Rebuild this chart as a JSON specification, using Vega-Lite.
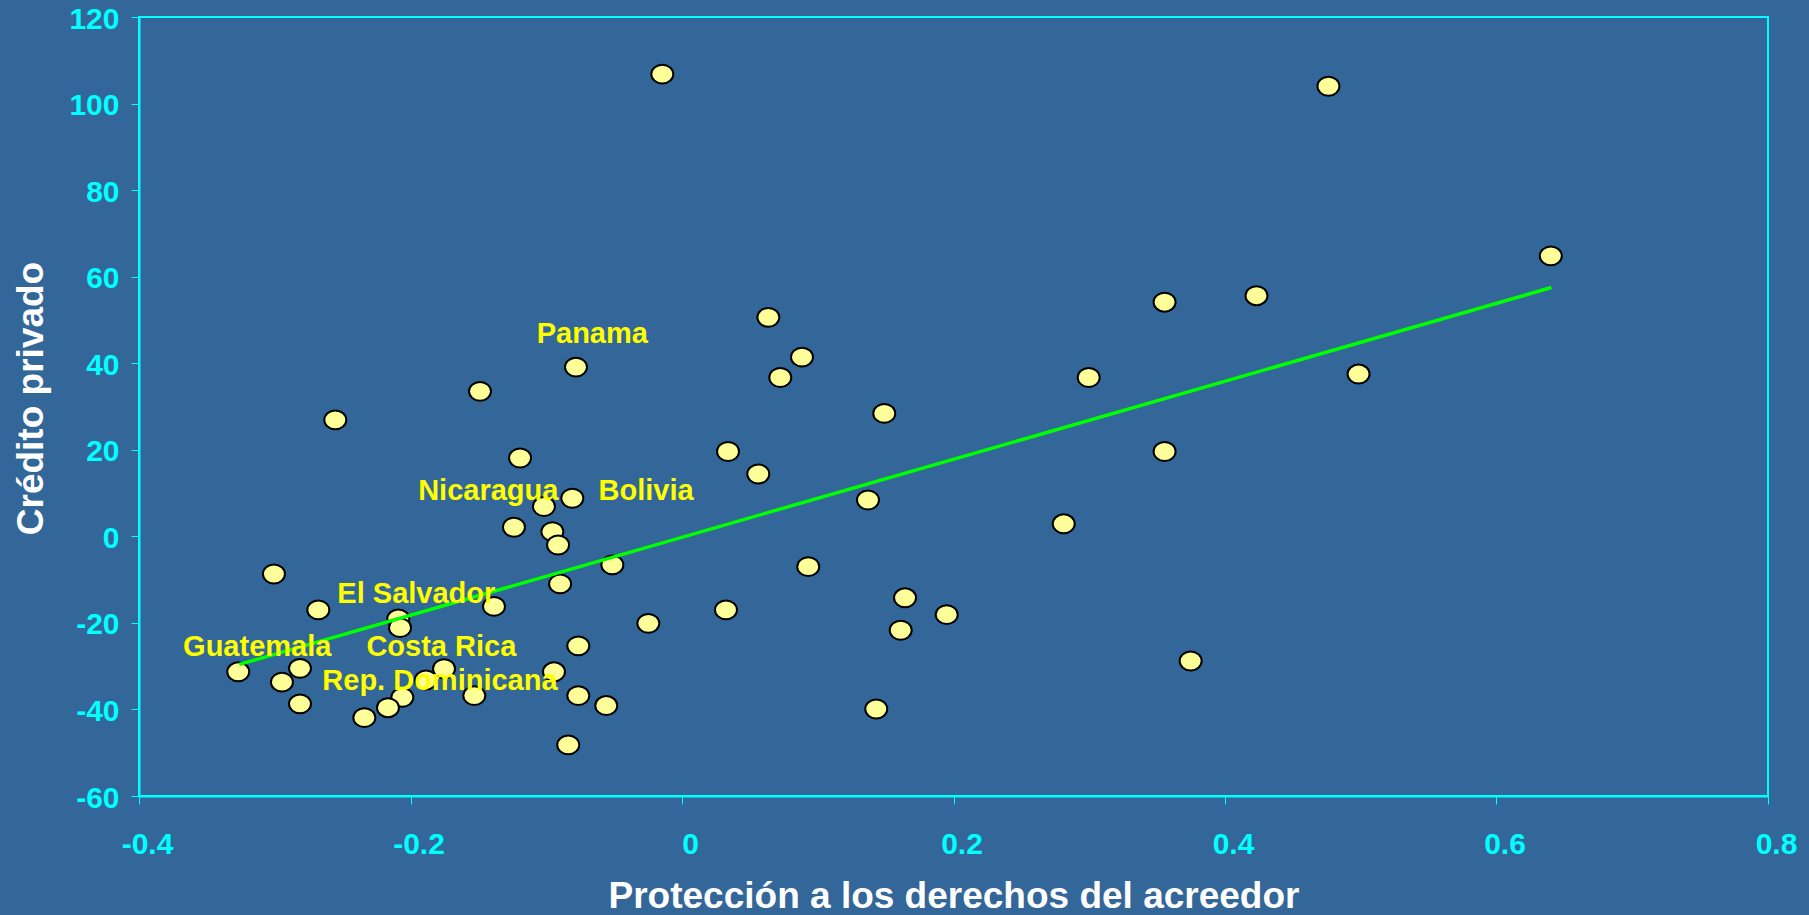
{
  "$schema": "https://vega.github.io/schema/vega-lite/v6.json",
  "width": 1629,
  "height": 779,
  "autosize": {"type": "none"},
  "padding": {"left": 139, "top": 17, "right": 41, "bottom": 119},
  "background": "#336699",
  "datasets": {
    "points": [
      {"x": -0.0145, "y": 106.8}, {"x": 0.4762, "y": 104.0}, {"x": 0.640, "y": 64.8},
      {"x": 0.4232, "y": 55.6}, {"x": 0.3555, "y": 54.1}, {"x": 0.0636, "y": 50.6},
      {"x": 0.0884, "y": 41.4}, {"x": -0.0781, "y": 39.1}, {"x": 0.0724, "y": 36.7},
      {"x": 0.2996, "y": 36.7}, {"x": 0.4984, "y": 37.5}, {"x": -0.1488, "y": 33.5},
      {"x": -0.2554, "y": 26.9}, {"x": 0.149, "y": 28.4}, {"x": -0.1193, "y": 18.1},
      {"x": 0.0339, "y": 19.6}, {"x": 0.3555, "y": 19.6}, {"x": 0.0562, "y": 14.4},
      {"x": -0.0808, "y": 8.8}, {"x": 0.137, "y": 8.4}, {"x": -0.1017, "y": 6.9},
      {"x": -0.1238, "y": 2.1}, {"x": 0.2812, "y": 2.9}, {"x": -0.0955, "y": 1.1},
      {"x": -0.0913, "y": -2.0}, {"x": -0.0513, "y": -6.6}, {"x": 0.093, "y": -7.0},
      {"x": -0.3006, "y": -8.7}, {"x": -0.0898, "y": -11.0}, {"x": 0.1643, "y": -14.2},
      {"x": -0.1385, "y": -16.2}, {"x": -0.2679, "y": -17.0}, {"x": 0.0324, "y": -17.0},
      {"x": 0.195, "y": -18.1}, {"x": -0.209, "y": -19.1}, {"x": -0.2077, "y": -21.1},
      {"x": -0.0248, "y": -20.1}, {"x": 0.1611, "y": -21.7}, {"x": -0.0764, "y": -25.3},
      {"x": 0.3747, "y": -28.8}, {"x": -0.3269, "y": -31.3}, {"x": -0.2814, "y": -30.5},
      {"x": -0.1753, "y": -30.6}, {"x": -0.0943, "y": -31.3}, {"x": -0.2947, "y": -33.7},
      {"x": -0.1886, "y": -33.2}, {"x": -0.206, "y": -37.2}, {"x": -0.153, "y": -36.8},
      {"x": -0.0764, "y": -36.8}, {"x": -0.2814, "y": -38.7}, {"x": -0.0558, "y": -39.1},
      {"x": -0.2166, "y": -39.6}, {"x": 0.1431, "y": -39.9}, {"x": -0.234, "y": -41.9},
      {"x": -0.0838, "y": -48.2}
    ],
    "fit": [
      {"x": -0.3261, "y": -29.6},
      {"x": 0.6405, "y": 57.5}
    ],
    "labels": [
      {"x": -0.0661, "y": 47.3, "name": "Panama"},
      {"x": -0.1427, "y": 10.9, "name": "Nicaragua"},
      {"x": -0.0265, "y": 10.9, "name": "Bolivia"},
      {"x": -0.1957, "y": -12.8, "name": "El Salvador"},
      {"x": -0.3129, "y": -25.1, "name": "Guatemala"},
      {"x": -0.1773, "y": -25.1, "name": "Costa Rica"},
      {"x": -0.1783, "y": -33.0, "name": "Rep. Dominicana"}
    ]
  },
  "layer": [
    {
      "data": {"name": "points"},
      "mark": {
        "type": "point",
        "shape": "M -1,0 A 1,0.857 0 1,1 1,0 A 1,0.857 0 1,1 -1,0 Z",
        "size": 484,
        "filled": true,
        "fill": "#FFFF99",
        "stroke": "#000000",
        "strokeWidth": 2,
        "opacity": 1,
        "fillOpacity": 1
      },
      "encoding": {
        "x": {
          "field": "x", "type": "quantitative",
          "scale": {"domain": [-0.4, 0.8], "nice": false, "zero": false},
          "axis": {
            "title": "Protección a los derechos del acreedor",
            "values": [-0.4, -0.2, 0, 0.2, 0.4, 0.6, 0.8],
            "labelExpr": "datum.value == 0 ? '0' : (datum.value < 0 ? '-' : '') + format(abs(datum.value), '.1f')",
            "labelPadding": 25,
            "labelOffset": 8,
            "titleY": 100,
            "titleBaseline": "middle"
          }
        },
        "y": {
          "field": "y", "type": "quantitative",
          "scale": {"domain": [-60, 120], "nice": false, "zero": false},
          "axis": {
            "title": "Crédito privado",
            "values": [-60, -40, -20, 0, 20, 40, 60, 80, 100, 120],
            "labelExpr": "(datum.value < 0 ? '-' : '') + format(abs(datum.value), 'd')",
            "labelPadding": 12,
            "labelOffset": 2,
            "titleX": -108,
            "titleY": 381,
            "titleBaseline": "middle",
            "titleAlign": "center"
          }
        }
      }
    },
    {
      "data": {"name": "fit"},
      "mark": {"type": "line", "color": "#00FF00", "strokeWidth": 3.5},
      "encoding": {
        "x": {"field": "x", "type": "quantitative"},
        "y": {"field": "y", "type": "quantitative"}
      }
    },
    {
      "data": {"name": "labels"},
      "mark": {
        "type": "text",
        "font": "Liberation Sans",
        "fontWeight": "bold",
        "fontSize": 29,
        "color": "#FFFF00",
        "align": "center",
        "baseline": "middle",
        "dy": 2
      },
      "encoding": {
        "x": {"field": "x", "type": "quantitative"},
        "y": {"field": "y", "type": "quantitative"},
        "text": {"field": "name"}
      }
    }
  ],
  "config": {
    "view": {"stroke": "#00FFFF", "strokeWidth": 2},
    "axis": {
      "grid": false,
      "domainColor": "#00FFFF",
      "domainWidth": 2,
      "tickColor": "#00FFFF",
      "tickWidth": 1,
      "tickSize": 8,
      "labelColor": "#00FFFF",
      "labelFont": "Liberation Sans",
      "labelFontWeight": "bold",
      "labelFontSize": 30,
      "labelFlush": false,
      "labelOverlap": false,
      "labelBound": false,
      "titleColor": "#FFFFFF",
      "titleFont": "Liberation Sans",
      "titleFontWeight": "bold",
      "titleFontSize": 37
    }
  }
}
